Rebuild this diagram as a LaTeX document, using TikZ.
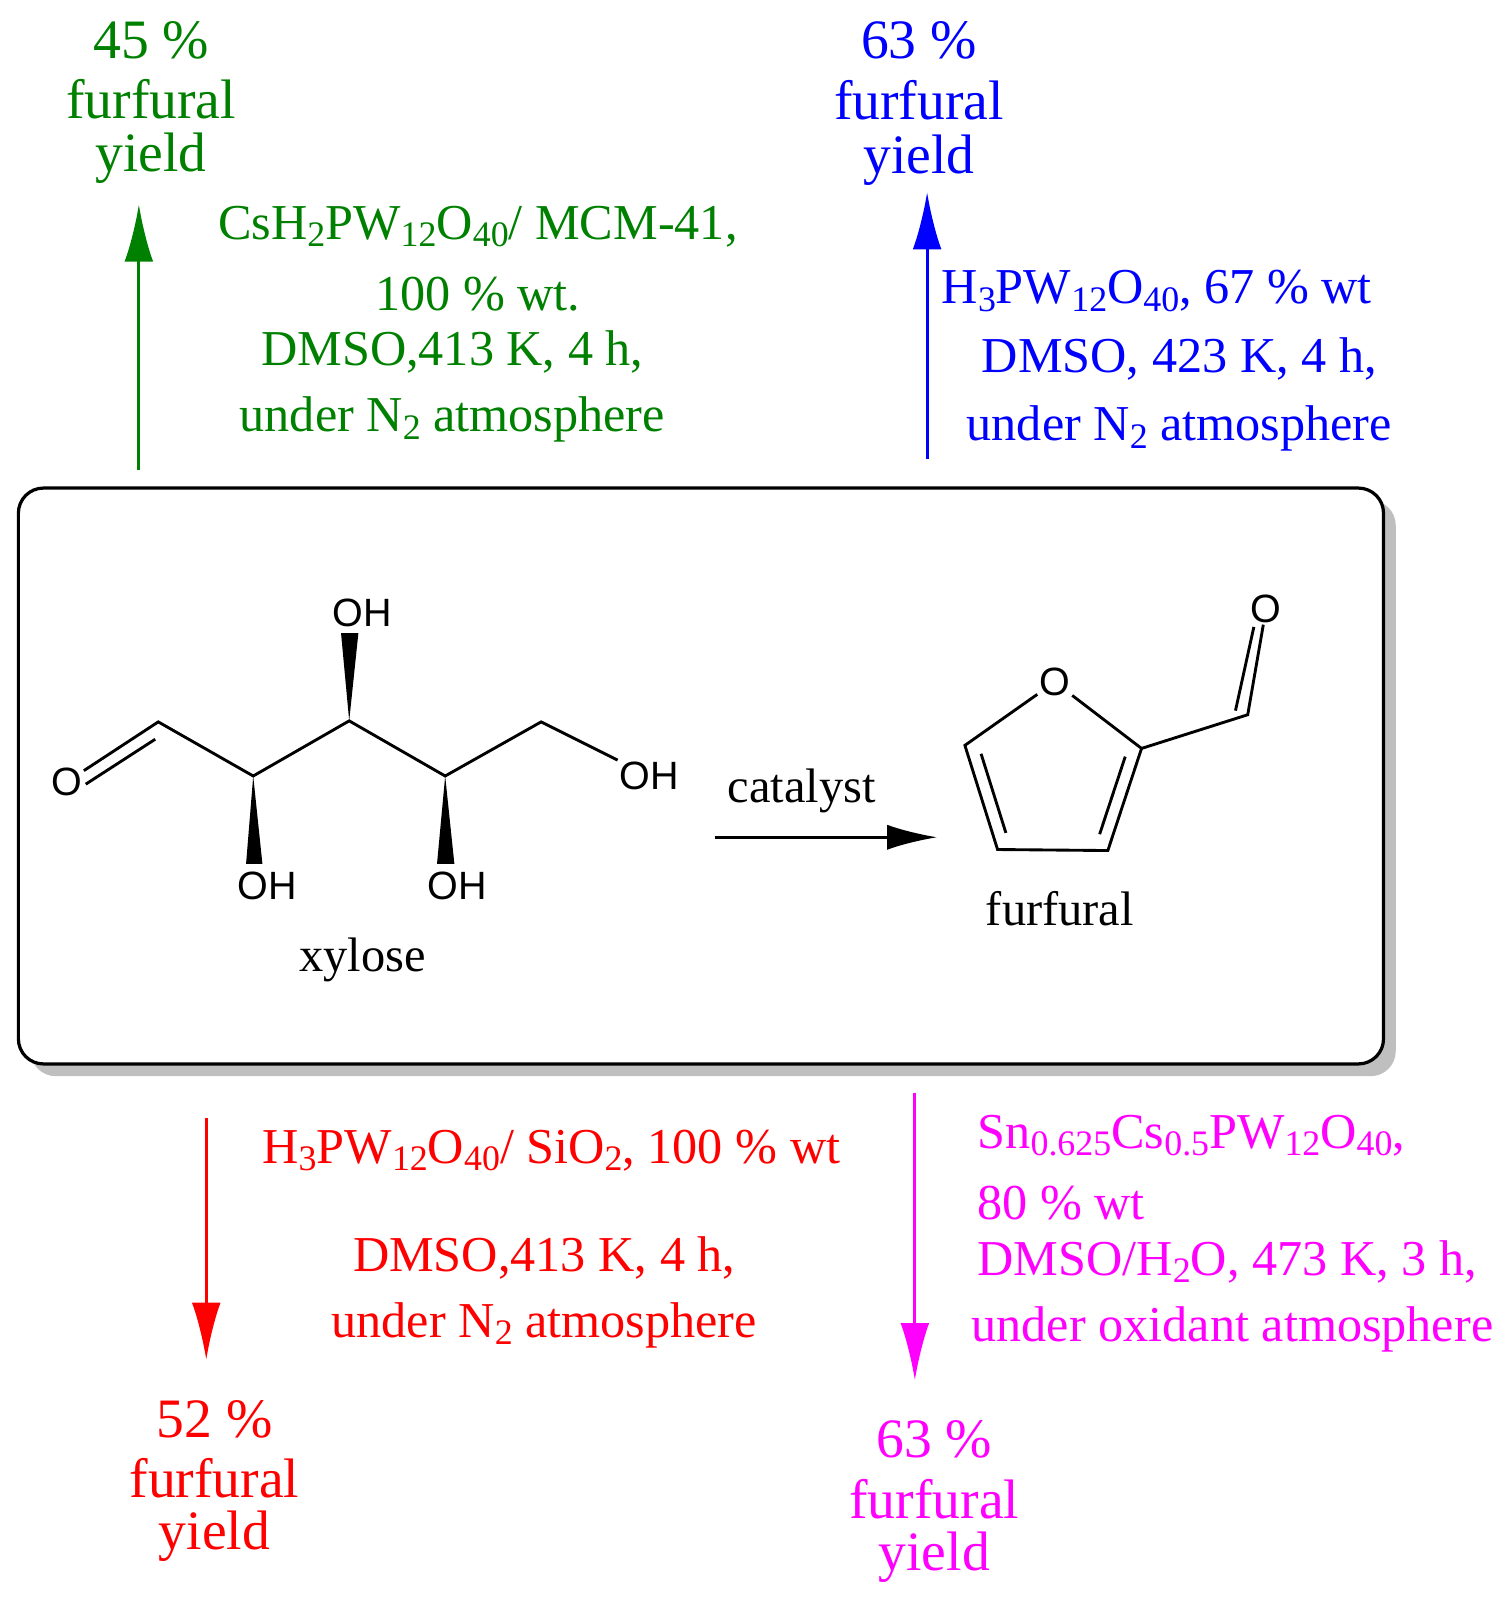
\documentclass[tikz,border=0pt]{standalone}
\usepackage{fontspec}
\setmainfont{Liberation Serif}
\newfontfamily\chemf{Liberation Sans}
\usetikzlibrary{arrows.meta,calc}
\definecolor{mag}{RGB}{255,0,255}
\definecolor{gr}{RGB}{0,128,0}
\definecolor{bl}{RGB}{0,0,255}
\definecolor{rd}{RGB}{255,0,0}
\newcommand\sbs[1]{\raisebox{-0.32ex}{\fontsize{20}{20}\selectfont #1}}
\begin{document}
\begin{tikzpicture}[x=0.02cm,y=-0.02cm,
  txt/.style={font=\fontsize{28}{30}\selectfont,inner sep=0pt},
  ytxt/.style={font=\fontsize{31}{32}\selectfont,inner sep=0pt},
  stxt/.style={font=\fontsize{27}{28}\selectfont,inner sep=0pt},
  atom/.style={font=\chemf\fontsize{22}{24}\selectfont,inner sep=1pt},
  bond/.style={line width=1.6pt},
  rarrow/.style={line width=1.8pt,-{Latex[length=32pt,width=16pt]}}]
\useasboundingbox (0,0) rectangle (1480,1568);
% box
\fill[gray!50,rounded corners=14pt] (30,490) rectangle (1367,1054);
\draw[line width=1.8pt,fill=white,rounded corners=14pt] (18,478) rectangle (1355,1042);
% green
\coordinate (g1) at (136,460); \coordinate (g2) at (136,200);
\draw[rarrow,gr] (g1) -- (g2);
\begin{scope}[gr]
\node[ytxt] at (148,40) {45 \%};
\node[ytxt] at (148,97) {furfural};
\node[ytxt] at (148,155) {yield};
\node[txt] at (468,222) {CsH\sbs{2}PW\sbs{12}O\sbs{40}/ MCM-41,};
\node[txt] at (468,288) {100 \% wt.};
\node[txt] at (443,345) {DMSO,413 K, 4 h,};
\node[txt] at (443,411) {under N\sbs{2} atmosphere};
\end{scope}
% blue
\coordinate (b1) at (908,450); \coordinate (b2) at (908,188);
\draw[rarrow,bl] (b1) -- (b2);
\begin{scope}[bl]
\node[ytxt] at (900,40) {63 \%};
\node[ytxt] at (900,98) {furfural};
\node[ytxt] at (900,157) {yield};
\node[txt,anchor=west] at (922,285) {H\sbs{3}PW\sbs{12}O\sbs{40}, 67 \% wt};
\node[txt] at (1155,352) {DMSO, 423 K, 4 h,};
\node[txt] at (1155,420) {under N\sbs{2} atmosphere};
\end{scope}
% red
\coordinate (r1) at (202,1095); \coordinate (r2) at (202,1332);
\draw[rarrow,rd] (r1) -- (r2);
\begin{scope}[rd]
\node[txt] at (540,1127) {H\sbs{3}PW\sbs{12}O\sbs{40}/ SiO\sbs{2}, 100 \% wt};
\node[txt] at (533,1232) {DMSO,413 K, 4 h,};
\node[txt] at (533,1298) {under N\sbs{2} atmosphere};
\node[ytxt] at (210,1390) {52 \%};
\node[ytxt] at (210,1448) {furfural};
\node[ytxt] at (210,1505) {yield};
\end{scope}
% magenta
\coordinate (m1) at (896,1070); \coordinate (m2) at (896,1352);
\draw[rarrow,mag] (m1) -- (m2);
\begin{scope}[mag]
\node[txt,anchor=west] at (957,1112) {Sn\sbs{0.625}Cs\sbs{0.5}PW\sbs{12}O\sbs{40},};
\node[txt,anchor=west] at (957,1178) {80 \% wt};
\node[txt,anchor=west] at (957,1236) {DMSO/H\sbs{2}O, 473 K, 3 h,};
\node[txt] at (1207,1302) {under oxidant atmosphere};
\node[ytxt] at (915,1410) {63 \%};
\node[ytxt] at (915,1468) {furfural};
\node[ytxt] at (915,1525) {yield};
\end{scope}
% xylose
\node[atom] (O1) at (65,766) {O};
\coordinate (c1) at (155,707); \coordinate (c2) at (248,760);
\coordinate (c3) at (342,706); \coordinate (c4) at (436,760);
\coordinate (c5) at (530,707);
\node[atom] (OH5) at (636,760) {OH};
\draw[bond] (O1) -- (c1) -- (c2) -- (c3) -- (c4) -- (c5) -- (OH5);
\draw[bond] (84,768) -- (152,724);
\fill (c2) -- (241,846) -- (257,846) -- cycle;
\fill (c3) -- (334,620) -- (351,620) -- cycle;
\fill (c4) -- (428,846) -- (445,846) -- cycle;
\node[atom] at (262,868) {OH};
\node[atom] at (355,600) {OH};
\node[atom] at (448,868) {OH};
\node[stxt] at (355,940) {xylose};
% reaction arrow
\coordinate (a1) at (700,820); \coordinate (a2) at (918,820);
\draw[line width=1.6pt,-{Latex[length=28pt,width=14pt]}] (a1) -- (a2);
\node[stxt] at (785,775) {catalyst};
% furfural
\node[atom] (Or) at (1033,668) {O};
\coordinate (f2) at (1118,733); \coordinate (f3) at (1085,833);
\coordinate (f4) at (977,832); \coordinate (f5) at (945,730);
\coordinate (fc) at (1222,700);
\node[atom] (Oc) at (1240,596) {O};
\draw[bond] (Or) -- (f2) -- (f3) -- (f4) -- (f5) -- (Or);
\draw[bond] ($(f4)!0.12!(f5)+(12,-4)$) -- ($(f5)!0.12!(f4)+(12,-4)$);
\draw[bond] ($(f2)!0.12!(f3)+(-12,-4)$) -- ($(f3)!0.12!(f2)+(-12,-4)$);
\draw[bond] (f2) -- (fc) -- (Oc);
\draw[bond] (1210,696) -- (1228,614);
\node[stxt] at (1038,890) {furfural};
\end{tikzpicture}
\end{document}
